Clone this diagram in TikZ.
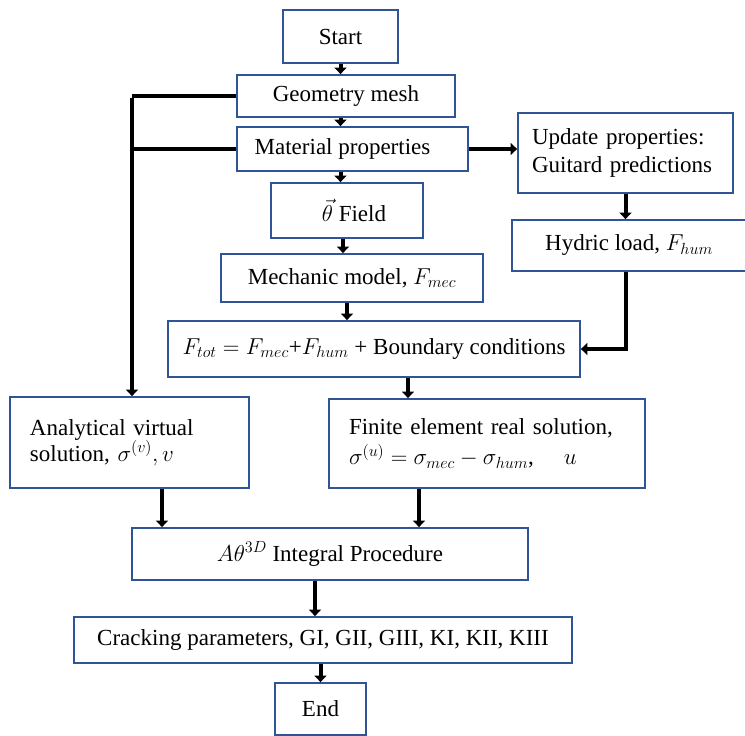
\RequirePackage{fix-cm}
\documentclass[tikz,border=0pt]{standalone}
\usepackage{fontspec}
\setmainfont{Liberation Serif}
\usetikzlibrary{arrows.meta}
\definecolor{boxblue}{RGB}{47,85,151}
\begin{document}
\begin{tikzpicture}[x=1pt,y=-1pt,
  box/.style={draw=boxblue, line width=1.8pt, fill=white,
    font=\fontsize{23}{28}\selectfont, inner sep=0pt, align=center},
  lbox/.style={box, align=left},
  arr/.style={line width=4pt, -{Triangle[width=12pt,length=6.5pt]}},
  link/.style={line width=4pt}]
\useasboundingbox (0,0) rectangle (745,736);

\node[box, minimum width=115pt, minimum height=53pt] (start) at (340.5,36.5) {Start};
\node[box, minimum width=218pt, minimum height=42pt] (geom) at (346,96) {Geometry mesh};
\node[box, minimum width=231pt, minimum height=44pt] (mat) at (352.5,149) {Material properties\hspace{20pt}};
\node[box, minimum width=152pt, minimum height=55pt] (theta) at (347,210.5) {\hspace{14pt}$\vec{\theta}$ Field};
\node[box, minimum width=262pt, minimum height=48pt] (mech) at (352,278) {Mechanic model, $F_{mec}$};
\node[box, minimum width=412pt, minimum height=56pt] (ftot) at (374,349) {$F_{tot} = F_{mec}$+$F_{hum}$ + Boundary conditions};
\node[lbox, text width=187pt, inner xsep=14pt, minimum height=80pt,
  font=\fontsize{23}{28}\selectfont] (upd) at (625.5,153) {Update properties:\\Guitard predictions};
\node[box, minimum width=234pt, minimum height=51pt] (hyd) at (629,245.5) {Hydric load, $F_{hum}$};
\node[lbox, text width=199pt, inner xsep=20pt, minimum height=91pt,
  font=\fontsize{23}{26}\selectfont] (ana) at (129.5,442.5) {Analytical virtual\\solution, $\sigma^{(v)}, v$};
\node[lbox, text width=276pt, inner xsep=20pt, minimum height=89pt,
  font=\fontsize{23}{30}\selectfont] (fin) at (487,443.5) {Finite element real solution,\\$\sigma^{(u)} = \sigma_{mec} - \sigma_{hum}$,\hspace{30pt}$u$};
\node[box, minimum width=396pt, minimum height=52pt] (atheta) at (330,554) {$A\theta^{3D}$ Integral Procedure};
\node[box, minimum width=498pt, minimum height=46pt] (crack) at (323,640) {Cracking parameters, GI, GII, GIII, KI, KII, KIII};
\node[box, minimum width=91pt, minimum height=52pt] (end) at (320.5,709) {End};

% main column
\draw[arr] (start.south) -- (start.south |- geom.north);
\draw[arr] (geom.south -| start.south) -- (mat.north -| start.south);
\draw[arr] (mat.south -| start.south) -- (theta.north -| start.south);
\draw[arr] ([xshift=-4pt]theta.south) -- ([xshift=-4pt]theta.south |- mech.north);
\draw[arr] (theta.south |- mech.south) -- (theta.south |- ftot.north);
\draw[arr] ([xshift=34pt]ftot.south) -- ([xshift=34pt]ftot.south |- fin.north);
\draw[arr] ([xshift=32.5pt]ana.south) -- ([xshift=32.5pt]ana.south |- atheta.north);
\draw[arr] ([xshift=-68pt]fin.south) -- ([xshift=-68pt]fin.south |- atheta.north);
\draw[arr] ([xshift=-15pt]atheta.south) -- ([xshift=-15pt]atheta.south |- crack.north);
\draw[arr] (end.north |- crack.south) -- (end.north);

% right branch
\draw[arr] (mat.east) -- (mat.east -| upd.west);
\draw[arr] (upd.south) -- (upd.south |- hyd.north);
\draw[arr] (hyd.south -| upd.south) |- (ftot.east);

% left branch
\coordinate (lt) at (132,96);
\coordinate (lm) at (132,149);
\draw[link] (geom.west) -- (lt);
\draw[link] (mat.west) -- (lm);
\draw[arr] ([yshift=-2pt]lt) -- (lt |- ana.north);
\end{tikzpicture}
\end{document}
